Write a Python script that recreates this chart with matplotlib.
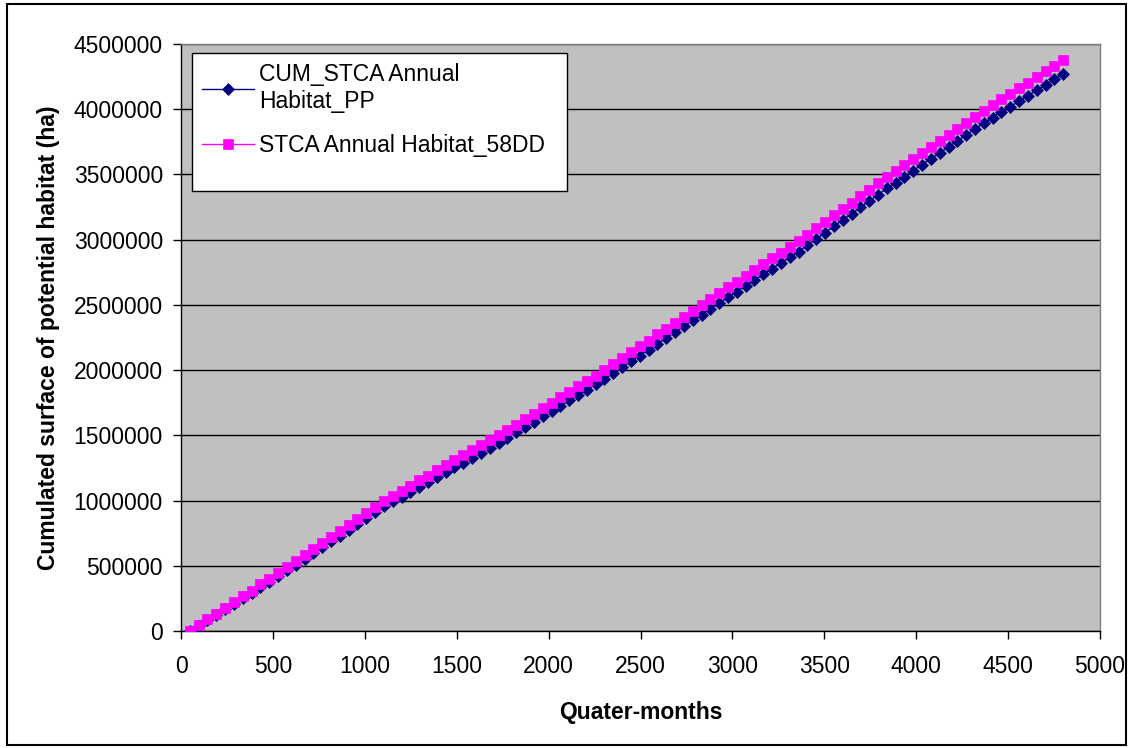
import matplotlib
matplotlib.use("Agg")
import matplotlib.pyplot as plt
from matplotlib.patches import Rectangle

plt.rcParams['font.family'] = ['Liberation Sans', 'DejaVu Sans']

# Quarter-months (one point per year = 48 quarter-months)
quarter_months = [48 * k for k in range(1, 101)]

# Cumulated potential habitat (thousand ha)
cum_pp_k = [
    0, 40, 84, 124, 169, 208, 253, 293, 338, 378,
    423, 465, 509, 554, 598, 643, 687, 731, 777, 821,
    866, 911, 956, 993, 1030, 1067, 1105, 1141, 1179, 1216,
    1254, 1291, 1329, 1366, 1404, 1441, 1482, 1522, 1564, 1605,
    1645, 1687, 1728, 1768, 1810, 1851, 1891, 1933, 1977, 2022,
    2067, 2112, 2157, 2202, 2246, 2292, 2336, 2382, 2426, 2470,
    2514, 2558, 2602, 2646, 2689, 2734, 2777, 2822, 2865, 2909,
    2958, 3006, 3054, 3103, 3151, 3199, 3248, 3296, 3344, 3393,
    3438, 3484, 3530, 3576, 3621, 3666, 3713, 3758, 3803, 3849,
    3894, 3936, 3979, 4020, 4062, 4104, 4146, 4188, 4229, 4271,
]
cum_58dd_k = [
    0, 43, 90, 132, 179, 221, 268, 310, 357, 399,
    446, 490, 536, 583, 629, 676, 722, 768, 815, 861,
    907, 954, 1000, 1038, 1077, 1115, 1154, 1192, 1231, 1269,
    1308, 1346, 1385, 1423, 1462, 1500, 1542, 1583, 1625, 1667,
    1708, 1750, 1792, 1833, 1875, 1917, 1958, 2000, 2045, 2091,
    2136, 2182, 2227, 2273, 2318, 2364, 2409, 2455, 2500, 2545,
    2589, 2634, 2678, 2723, 2767, 2812, 2856, 2901, 2945, 2990,
    3039, 3088, 3137, 3186, 3235, 3284, 3333, 3382, 3431, 3480,
    3526, 3573, 3619, 3666, 3712, 3758, 3805, 3851, 3897, 3944,
    3990, 4033, 4076, 4118, 4161, 4204, 4247, 4290, 4332, 4375,
]
cum_pp = [v * 1000 for v in cum_pp_k]
cum_58dd = [v * 1000 for v in cum_58dd_k]

label_pp = "CUM_STCA Annual\nHabitat_PP"
label_58dd = "STCA Annual Habitat_58DD"
x_ticks = list(range(0, 5001, 500))
y_ticks = list(range(0, 4500001, 500000))

W, H = 1133, 748
fig = plt.figure(figsize=(W / 100, H / 100), dpi=100)
fig.patch.set_facecolor('white')

# figure border
fig.patches.append(Rectangle((7 / W, 3 / H), (1126 - 7) / W, (744 - 3) / H,
                             transform=fig.transFigure, fill=False,
                             edgecolor='black', linewidth=1.5))

L, R, T, B = 181, 1100, 44, 631
ax = fig.add_axes([L / W, 1 - B / H, (R - L) / W, (B - T) / H])
ax.set_facecolor('#C0C0C0')

ax.plot(quarter_months, cum_pp, color='#000080', linewidth=1.0,
        marker='D', markersize=6.2, markerfacecolor='#000080',
        markeredgecolor='#000080', markeredgewidth=0.5, label=label_pp, zorder=3)
ax.plot(quarter_months, cum_58dd, color='#FF00FF', linewidth=1.0,
        marker='s', markersize=7.1, markerfacecolor='#FF00FF',
        markeredgecolor='#FF00FF', markeredgewidth=0.5, label=label_58dd, zorder=4)

ax.set_xlim(0, 5000)
ax.set_ylim(0, 4500000)
ax.set_xticks(x_ticks)
ax.set_yticks(y_ticks)
ax.set_xticklabels([str(v) for v in x_ticks])
ax.set_yticklabels([str(v) for v in y_ticks])
ax.tick_params(axis='both', direction='out', length=6, width=1.0,
               labelsize=16.5, color='black', labelcolor='black')
ax.tick_params(axis='y', pad=7)
ax.tick_params(axis='x', pad=11)

ax.yaxis.grid(True, color='black', linewidth=1.0)
ax.set_axisbelow(True)
for s in ['top', 'right']:
    ax.spines[s].set_color('#808080')
    ax.spines[s].set_linewidth(1.0)
for s in ['left', 'bottom']:
    ax.spines[s].set_color('black')
    ax.spines[s].set_linewidth(1.0)

ax.set_xlabel('Quater-months', fontsize=16.5, fontweight='bold', labelpad=17)
ax.set_ylabel('Cumulated surface of potential habitat (ha)', fontsize=16.5,
              fontweight='bold', labelpad=10)

# legend frame (drawn separately: the original box has extra room at the bottom)
ax.add_patch(Rectangle((192 / W, 1 - 191 / H), (567 - 192) / W, (191 - 53) / H,
                       transform=fig.transFigure, facecolor='white',
                       edgecolor='black', linewidth=1.0, zorder=6))
leg = ax.legend(loc='upper left', bbox_to_anchor=((192 - L) / (R - L), 1 - (53 - T) / (B - T)),
                frameon=False, fontsize=16.5, borderpad=0.45,
                handlelength=2.25, handletextpad=0.22, labelspacing=0.9,
                borderaxespad=0)
leg.set_zorder(7)

fig.savefig('out.png', dpi=100)
